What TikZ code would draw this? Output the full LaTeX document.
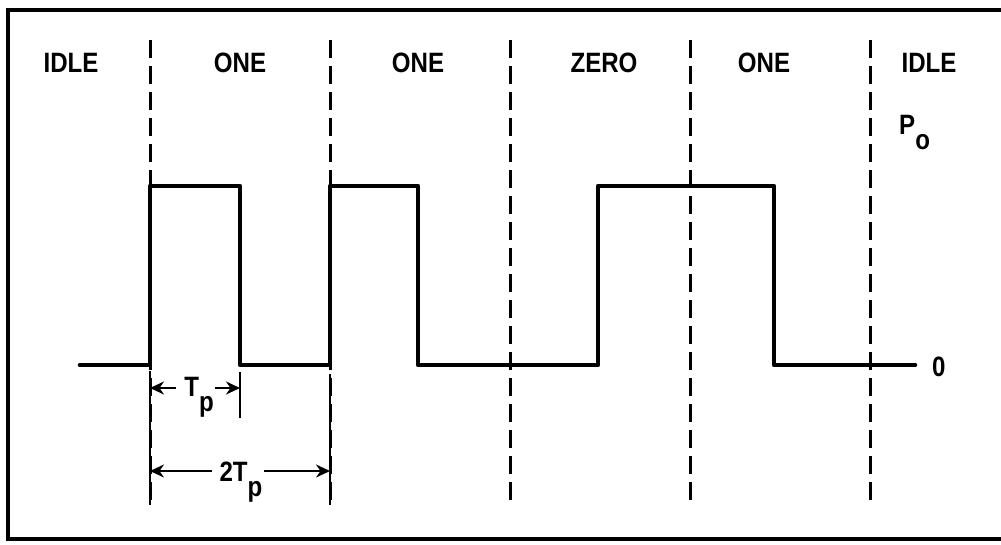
\documentclass[tikz,border=0pt]{standalone}
\usepackage{fontspec}
\usepackage{graphicx}
\setmainfont{Liberation Sans}
\usetikzlibrary{arrows.meta}
\newcommand{\nrw}[1]{\scalebox{0.86}[1]{#1}}
\begin{document}
\begin{tikzpicture}[x=1pt,y=-1pt,
  lbl/.style={font=\fontsize{28}{32}\selectfont\bfseries, inner sep=0pt, anchor=base},
  frame/.style={line width=3.2pt},
  wave/.style={line width=4.6pt, line cap=round, line join=round},
  divider/.style={line width=3pt, dash pattern=on 18pt off 8pt},
  extline/.style={line width=2.8pt},
  dimarrow/.style={line width=2.6pt, -{Stealth[length=14pt,width=13pt]}},
]
\useasboundingbox (0,0) rectangle (1001,544);
% frame (right edge lies outside the picture)
\draw[frame] (1001,10) -- (8,10) -- (8,539) -- (1001,539);

% dividers
\foreach \x/\n in {150/a,330/b,510/c,690/d,870/e}{
  \coordinate (dt\n) at (\x,40);
  \coordinate (db\n) at (\x,507);
  \draw[divider] (dt\n) -- (db\n);
}

% section labels
\node[lbl] (l1) at (71,72) {\nrw{IDLE}};
\node[lbl] (l2) at (240,72) {\nrw{ONE}};
\node[lbl] (l3) at (418,72) {\nrw{ONE}};
\node[lbl] (l4) at (604,72) {\nrw{ZERO}};
\node[lbl] (l5) at (764,72) {\nrw{ONE}};
\node[lbl] (l6) at (929,72) {\nrw{IDLE}};
\node[lbl, anchor=base west] (po) at (899,134) {\nrw{P\raisebox{-0.55em}{o}}};
\node[lbl, anchor=west] (zero) at (932,367) {\nrw{0}};

% waveform
\coordinate (w0) at (80,365);
\coordinate (w1) at (150,365);
\coordinate (w2) at (150,186);
\coordinate (w3) at (240,186);
\coordinate (w4) at (240,365);
\coordinate (w5) at (330,365);
\coordinate (w6) at (330,186);
\coordinate (w7) at (418,186);
\coordinate (w8) at (418,365);
\coordinate (w9) at (598,365);
\coordinate (w10) at (598,186);
\coordinate (w11) at (774,186);
\coordinate (w12) at (774,365);
\coordinate (w13) at (915,365);
\draw[wave] (w0) -- (w1) -- (w2) -- (w3) -- (w4) -- (w5) -- (w6) -- (w7)
  -- (w8) -- (w9) -- (w10) -- (w11) -- (w12) -- (w13);

% extension lines
\coordinate (e1t) at (150,371);
\coordinate (e1b) at (150,505);
\coordinate (e2t) at (240,372);
\coordinate (e2b) at (240,418);
\coordinate (e3t) at (330,374);
\coordinate (e3b) at (330,505);
\draw[extline] (e1t) -- (e1b);
\draw[extline] (e2t) -- (e2b);
\draw[extline] (e3t) -- (e3b);

% T_p dimension
\node[lbl] (tp) at (199,396) {\nrw{T\raisebox{-0.55em}{p}}};
\coordinate (tpa) at (150,388);
\coordinate (tpb) at (240,388);
\coordinate (tpl) at (176,388);
\coordinate (tpr) at (215,388);
\draw[dimarrow] (tpl) -- (tpa);
\draw[dimarrow] (tpr) -- (tpb);

% 2T_p dimension
\node[lbl] (ttp) at (241,481) {\nrw{2T\raisebox{-0.55em}{p}}};
\coordinate (ta) at (150,471);
\coordinate (tb) at (330,471);
\coordinate (tl) at (212,471);
\coordinate (tr) at (264,471);
\draw[dimarrow] (tl) -- (ta);
\draw[dimarrow] (tr) -- (tb);
\end{tikzpicture}
\end{document}
